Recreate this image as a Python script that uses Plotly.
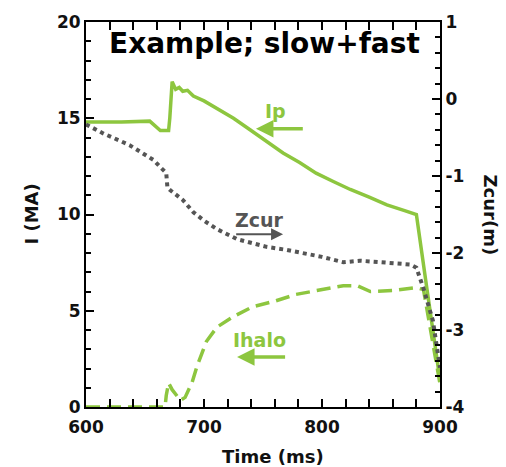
import plotly.graph_objects as go

# Plasma current Ip (MA)
ip_t = [600, 630, 654, 663, 670, 671, 673, 676, 679, 682, 686, 691, 700, 714, 725, 739, 753, 767, 781, 795, 810, 824, 840, 855, 870, 880, 889, 900]
ip_v = [14.8, 14.8, 14.85, 14.36, 14.36, 15.0, 16.9, 16.5, 16.6, 16.4, 16.45, 16.15, 15.9, 15.4, 15.0, 14.4, 13.8, 13.2, 12.7, 12.15, 11.7, 11.3, 10.9, 10.5, 10.2, 10.0, 6.1, 1.4]

# Halo current Ihalo (MA)
ih_t = [600, 667, 668, 670, 673, 680, 684, 690, 694, 702, 711, 725, 741, 760, 778, 800, 818, 830, 841, 860, 880, 886, 900]
ih_v = [0.0, 0.0, 0.6, 1.25, 0.9, 0.35, 0.5, 1.3, 2.1, 3.4, 4.15, 4.7, 5.2, 5.5, 5.85, 6.1, 6.3, 6.3, 6.0, 6.05, 6.2, 6.1, 1.2]

# Current centroid height Zcur (m)
zc_t = [600, 615, 637, 650, 657, 664, 668, 669, 671, 682, 691, 700, 711, 728, 753, 770, 800, 818, 832, 850, 875, 880, 886, 894, 900]
zc_v = [-0.33, -0.45, -0.60, -0.72, -0.79, -0.90, -0.96, -1.15, -1.18, -1.31, -1.47, -1.58, -1.69, -1.82, -1.92, -1.96, -2.05, -2.12, -2.10, -2.12, -2.15, -2.19, -2.46, -2.88, -3.49]

# Right-axis tick labels (plain hyphen minus signs)
z_tickvals = [1, 0, -1, -2, -3, -4]
z_ticktext = ["1", "0", "-1", "-2", "-3", "-4"]

GREEN = "#8dc63f"
GRAY = "#555555"
FONT = "DejaVu Sans"

fig = go.Figure()
fig.add_trace(go.Scatter(x=ip_t, y=ip_v, mode="lines", line=dict(color=GREEN, width=3.5), yaxis="y"))
fig.add_trace(go.Scatter(x=ih_t, y=ih_v, mode="lines",
                         line=dict(color=GREEN, width=3.5, dash="14px,7px"), yaxis="y"))
fig.add_trace(go.Scatter(x=zc_t, y=zc_v, mode="lines",
                         line=dict(color=GRAY, width=4, dash="4px,4px"), yaxis="y2"))

tickfont = dict(family=FONT, size=17, color="#111", weight="bold")
minor_ticks = dict(ticklen=5, ticks="inside", tickcolor="black", tickwidth=1.5)
axis_common = dict(showline=True, linecolor="black", linewidth=2, ticks="inside",
                   ticklen=8, tickwidth=1.5, tickcolor="black", showgrid=False,
                   zeroline=False, tickfont=tickfont, layer="above traces")

fig.update_layout(
    width=506, height=467,
    margin=dict(l=86, r=66, t=17, b=60),
    paper_bgcolor="white", plot_bgcolor="white",
    showlegend=False,
    xaxis=dict(range=[600, 900], tick0=600, dtick=100, mirror="allticks",
               ticklabelstandoff=4,
               minor=dict(dtick=20, **minor_ticks), **axis_common),
    yaxis=dict(range=[0, 20], tick0=0, dtick=5,
               minor=dict(dtick=1, **minor_ticks), **axis_common),
    yaxis2=dict(range=[-4, 1], tickmode="array", tickvals=z_tickvals, ticktext=z_ticktext,
                overlaying="y", side="right",
                minor=dict(tick0=-4, dtick=0.2, **minor_ticks), **axis_common),
)

ann = []
# Title inside the frame
ann.append(dict(x=751, y=18.9, xref="x", yref="y", text="Example; slow+fast", showarrow=False,
                font=dict(family=FONT, size=28, color="black", weight="bold")))
# Axis titles
title_font = dict(family=FONT, size=18, color="#111", weight="bold")
ann.append(dict(x=0, y=0.5, xref="paper", yref="paper", xanchor="center", yanchor="middle",
                xshift=-55, text="I (MA)", textangle=-90, showarrow=False, font=title_font))
ann.append(dict(x=1, y=0.5, xref="paper", yref="paper", xanchor="center", yanchor="middle",
                xshift=50, text="Zcur(m)", textangle=90, showarrow=False, font=title_font))
ann.append(dict(x=0.5, y=0, xref="paper", yref="paper", xanchor="center", yanchor="middle",
                yshift=-49, xshift=10, text="Time (ms)", showarrow=False, font=title_font))
# Curve labels
ann.append(dict(x=761, y=15.4, xref="x", yref="y", text="Ip", showarrow=False,
                font=dict(family=FONT, size=19, color=GREEN, weight="bold")))
ann.append(dict(x=747, y=9.7, xref="x", yref="y", text="Zcur", showarrow=False,
                font=dict(family=FONT, size=19, color=GRAY, weight="bold")))
ann.append(dict(x=747, y=3.5, xref="x", yref="y", text="Ihalo", showarrow=False,
                font=dict(family=FONT, size=19, color=GREEN, weight="bold")))
# Arrows pointing to each curve
ann.append(dict(x=744, y=14.46, ax=785, ay=14.46, xref="x", yref="y", axref="x", ayref="y",
                text="", showarrow=True, arrowhead=2, arrowsize=1, arrowwidth=3.5, arrowcolor=GREEN))
ann.append(dict(x=767, y=8.97, ax=726, ay=8.97, xref="x", yref="y", axref="x", ayref="y",
                text="", showarrow=True, arrowhead=2, arrowsize=1.2, arrowwidth=2, arrowcolor=GRAY))
ann.append(dict(x=728, y=2.6, ax=770, ay=2.6, xref="x", yref="y", axref="x", ayref="y",
                text="", showarrow=True, arrowhead=2, arrowsize=1, arrowwidth=3.5, arrowcolor=GREEN))
fig.update_layout(annotations=ann)

fig.write_html("out.html")
